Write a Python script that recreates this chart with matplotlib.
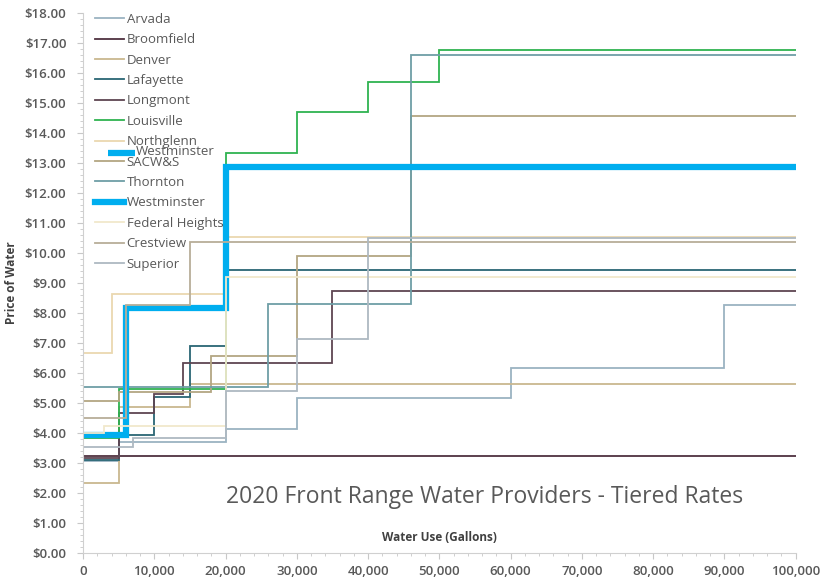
import numpy as np
import matplotlib
matplotlib.use("Agg")
import matplotlib.pyplot as plt
from matplotlib.ticker import MultipleLocator, FuncFormatter

plt.rcParams["font.family"] = ["Open Sans", "DejaVu Sans"]

# tier start (gallons) and price per tier
providers = ["Arvada", "Broomfield", "Denver", "Lafayette", "Longmont",
             "Louisville", "Northglenn", "SACW&S", "Thornton", "Westminster",
             "Federal Heights", "Crestview", "Superior"]

tier_starts = {
    "Arvada": [0, 5000, 20000, 30000, 60000, 90000],
    "Broomfield": [0],
    "Denver": [0, 5000, 15000],
    "Lafayette": [0, 5000, 10000, 15000, 20000],
    "Longmont": [0, 5000, 10000, 14000, 35000],
    "Louisville": [0, 5000, 20000, 30000, 40000, 50000],
    "Northglenn": [0, 4000, 20000],
    "SACW&S": [0, 5000, 18000, 30000, 46000],
    "Thornton": [0, 26000, 46000],
    "Westminster": [0, 6000, 20000],
    "Federal Heights": [0, 3000, 20000],
    "Crestview": [0, 6000, 15000],
    "Superior": [0, 7000, 20000, 30000, 40000],
}
tier_prices = {
    "Arvada": [3.05, 3.70, 4.13, 5.15, 6.17, 8.27],
    "Broomfield": [3.23],
    "Denver": [2.33, 4.87, 5.63],
    "Lafayette": [3.10, 3.93, 5.20, 6.90, 9.43],
    "Longmont": [3.15, 4.67, 5.30, 6.33, 8.73],
    "Louisville": [3.83, 5.47, 13.33, 14.70, 15.70, 16.77],
    "Northglenn": [6.67, 8.63, 10.53],
    "SACW&S": [5.07, 5.37, 6.57, 9.90, 14.57],
    "Thornton": [5.53, 8.30, 16.60],
    "Westminster": [3.93, 8.15, 12.87],
    "Federal Heights": [4.00, 4.23, 9.20],
    "Crestview": [4.50, 8.27, 10.37],
    "Superior": [3.53, 3.83, 5.40, 7.13, 10.50],
}
colors = {
    "Arvada": "#9bb3c1", "Broomfield": "#4f3240", "Denver": "#c9b78f",
    "Lafayette": "#2a6674", "Longmont": "#5e4552", "Louisville": "#2fb350",
    "Northglenn": "#ead8b0", "SACW&S": "#b3a682", "Thornton": "#6e9ea6",
    "Westminster": "#00aeef", "Federal Heights": "#f1e8cc",
    "Crestview": "#b8ae98", "Superior": "#aeb9c2",
}
max_use = 100000

fig = plt.figure(figsize=(8.22, 5.77), dpi=100)
ax = fig.add_axes([0.101, 0.0416, 0.867, 0.936])

for name in providers:
    xs = tier_starts[name] + [max_use]
    ys = tier_prices[name] + [tier_prices[name][-1]]
    lw = 4.5 if name == "Westminster" else 1.3
    ax.step(xs, ys, where="post", color=colors[name], lw=lw, label=name,
            solid_joinstyle="miter")

ax.set_xlim(0, max_use)
ax.set_ylim(0, 18)
ax.yaxis.set_major_locator(MultipleLocator(1))
ax.yaxis.set_minor_locator(MultipleLocator(0.2))
ax.xaxis.set_major_locator(MultipleLocator(10000))
ax.xaxis.set_minor_locator(MultipleLocator(2000))
ax.yaxis.set_major_formatter(FuncFormatter(lambda v, p: "${:.2f}".format(v)))
ax.xaxis.set_major_formatter(FuncFormatter(lambda v, p: "{:,.0f}".format(v)))

for s in ["top", "right"]:
    ax.spines[s].set_visible(False)
for s in ["left", "bottom"]:
    ax.spines[s].set_color("#d0d0d0")
ax.tick_params(which="both", colors="#c8c8c8", labelcolor="#595959",
               labelsize=9.5)
ax.tick_params(which="major", length=4)
ax.tick_params(which="minor", length=2.5)
ax.tick_params(axis="y", pad=8)
ax.tick_params(axis="x", pad=5)
for t in ax.get_xticklabels() + ax.get_yticklabels():
    t.set_fontweight("semibold")

ax.set_ylabel("Price of Water", fontsize=8.5, fontweight="bold",
              color="#404040")
ax.yaxis.set_label_coords(-0.091, 0.5)
ax.text(0.5, 0.028, "Water Use (Gallons)", transform=ax.transAxes,
        ha="center", va="center", fontsize=8.5, fontweight="bold",
        color="#404040")
ax.text(0.564, 0.103, "2020 Front Range Water Providers - Tiered Rates",
        transform=ax.transAxes, ha="center", va="center", fontsize=16.5,
        color="#595959")

leg = ax.legend(loc="upper left", bbox_to_anchor=(0.0, 1.022), frameon=False,
                fontsize=9.5, handlelength=2.2, handletextpad=0.2,
                labelspacing=0.56, borderaxespad=0.5)
for t in leg.get_texts():
    t.set_color("#595959")

# stray duplicate label that sits over the legend in the original
ax.plot([0.035, 0.073], [0.741, 0.741], transform=ax.transAxes,
        color=colors["Westminster"], lw=4.5, solid_capstyle="butt")
ax.text(0.074, 0.744, "Westminster", transform=ax.transAxes, ha="left",
        va="center", fontsize=9.5, color="#595959")

fig.savefig("out.png", dpi=100)
